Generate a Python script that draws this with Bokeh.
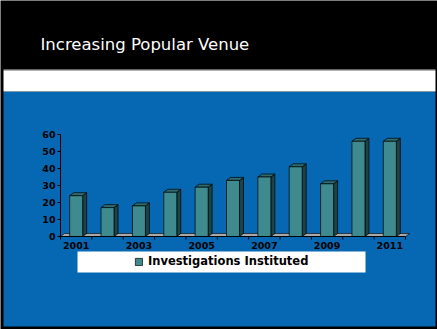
from bokeh.plotting import figure
from bokeh.models import (Range1d, BoxAnnotation, Legend, LegendItem,
                          ColumnDataSource)
from bokeh.core.properties import value
from bokeh.embed import file_html
from bokeh.resources import INLINE

# ---- data ----
years = ["2001", "2002", "2003", "2004", "2005", "2006",
         "2007", "2008", "2009", "2010", "2011"]
investigations = [24, 17, 18, 26, 29, 33, 35, 41, 31, 56, 56]
y_ticks = [0, 10, 20, 30, 40, 50, 60]
x_tick_labels = ["2001", "2003", "2005", "2007", "2009", "2011"]
title_text = "Increasing Popular Venue"
series_name = "Investigations Instituted"

# ---- styling / layout ----
BLUE = "#0668B3"
FRONT = "#3F8A8F"
SIDE = "#1C4346"
TOP = "#2E6C70"
FLOOR = "#A9A9A9"
W, H = 437, 329
FL, FR, FT, FB = 60, 405, 134, 236   # plot area in canvas pixels
FONT = "DejaVu Sans"

n = len(years)
ymax = y_ticks[-1]
px_x = (FR - FL) / n
px_y = (FB - FT) / ymax


def sx(px):  # canvas pixel -> data x
    return (px - FL) / px_x


def sy(py):  # canvas pixel -> data y
    return (FB - py) / px_y


dx = 4 / px_x
dy = 3 / px_y
hw = 6.5 / px_x

p = figure(width=W, height=H, output_backend="svg", toolbar_location=None,
           x_range=Range1d(sx(0), sx(W)), y_range=Range1d(sy(H), sy(0)),
           min_border=0, x_axis_type=None, y_axis_type=None)
p.background_fill_color = "black"
p.border_fill_color = "black"
p.outline_line_color = None
p.grid.visible = False


def band(l, r, t, b, color):
    p.add_layout(BoxAnnotation(left=sx(l), right=sx(r), top=sy(t), bottom=sy(b),
                               fill_color=color, fill_alpha=1.0,
                               line_color=None, level="underlay"))


band(3, 435, 91, 326, BLUE)
band(3, 435, 69, 70, "#C8C8C8")
band(3, 435, 70, 91, "white")
band(77, 365, 251, 272, "white")

# title
p.text(x=[sx(40)], y=[sy(44)], text=[title_text], text_color="white",
       text_font=value(FONT), text_font_size="16.5px", text_baseline="alphabetic")

# floor
p.patch([0, n, n + dx, dx], [0, 0, dy, dy], fill_color=FLOOR,
        line_color="black", line_width=0.6)

centers = [i + 0.5 for i in range(n)]
lefts = [c - hw for c in centers]
rights = [c + hw for c in centers]

side_xs = [[r, r + dx, r + dx, r] for r in rights]
side_ys = [[0, dy, v + dy, v] for v in investigations]
top_xs = [[l, r, r + dx, l + dx] for l, r in zip(lefts, rights)]
top_ys = [[v, v, v + dy, v + dy] for v in investigations]

p.patches(side_xs, side_ys, fill_color=SIDE, line_color="black", line_width=0.7)
p.patches(top_xs, top_ys, fill_color=TOP, line_color="black", line_width=0.7)
src = ColumnDataSource(dict(left=lefts, right=rights, top=investigations))
front = p.quad(left="left", right="right", bottom=0, top="top", source=src,
               fill_color=FRONT, line_color="black", line_width=0.7)

# ---- y axis ----
p.segment(x0=[0], y0=[0], x1=[0], y1=[ymax], line_color="black", line_width=1)
p.segment(x0=[sx(FL - 3)] * len(y_ticks), y0=y_ticks,
          x1=[0] * len(y_ticks), y1=y_ticks, line_color="black", line_width=1)
p.text(x=[sx(FL - 5)] * len(y_ticks), y=y_ticks, text=[str(t) for t in y_ticks],
       text_align="right", text_baseline="middle", text_color="black",
       text_font=value(FONT), text_font_style="bold", text_font_size="9.5px")

# ---- x axis ----
p.segment(x0=[0], y0=[0], x1=[n], y1=[0], line_color="black", line_width=1)
bounds = list(range(n + 1))
p.segment(x0=bounds, y0=[0] * len(bounds), x1=bounds, y1=[sy(FB + 3)] * len(bounds),
          line_color="black", line_width=1)
label_pos = [centers[years.index(y)] for y in x_tick_labels]
p.text(x=label_pos, y=[sy(FB + 5)] * len(label_pos), text=x_tick_labels,
       text_align="center", text_baseline="top", text_color="black",
       text_font=value(FONT), text_font_style="bold", text_font_size="9.5px")

# ---- legend ----
legend = Legend(items=[LegendItem(label=series_name, renderers=[front])],
                location=(134, H - 268), orientation="horizontal",
                glyph_width=9, glyph_height=9, label_height=9,
                label_standoff=5, padding=0, margin=0,
                background_fill_alpha=0, border_line_color=None,
                label_text_font=FONT, label_text_font_style="bold",
                label_text_font_size="11.5px", label_text_color="black")
p.add_layout(legend)

open("out.html", "w").write(file_html(p, INLINE))
